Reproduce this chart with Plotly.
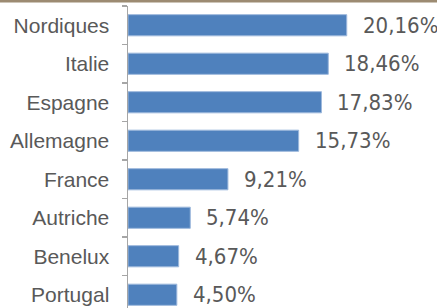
import plotly.graph_objects as go

categories = ["Nordiques", "Italie", "Espagne", "Allemagne", "France", "Autriche", "Benelux", "Portugal"]
values = [20.16, 18.46, 17.83, 15.73, 9.21, 5.74, 4.67, 4.50]
value_labels = ["20,16%", "18,46%", "17,83%", "15,73%", "9,21%", "5,74%", "4,67%", "4,50%"]

W, H = 437, 308
L, T = 128, 6
px_per_unit = 10.85
x_max = (W - L) / px_per_unit
band = 38.5
y_bottom = -0.5 + (H - T) / band

fig = go.Figure()
fig.add_trace(go.Bar(
    y=categories, x=values, orientation="h",
    marker=dict(color="#4f81bd", line=dict(color="#9db8dc", width=1)),
    hoverinfo="skip",
))

for c, v, t in zip(categories, values, value_labels):
    fig.add_annotation(
        x=v, y=c, text=t, showarrow=False, xanchor="left", yanchor="middle",
        xshift=14, yshift=0,
        font=dict(family="DejaVu Sans Condensed, Liberation Sans Narrow, sans-serif",
                  size=22, color="#595959"),
    )

fig.add_shape(type="rect", xref="paper", yref="paper",
              xsizemode="pixel", ysizemode="pixel", xanchor=0, yanchor=1,
              x0=-L, x1=W, y0=T - 2.5, y1=T + 1,
              fillcolor="#9c8b72", line=dict(width=0), layer="above")

fig.update_layout(
    width=W, height=H,
    margin=dict(l=L, r=0, t=T, b=0, pad=0, autoexpand=False),
    plot_bgcolor="white", paper_bgcolor="white",
    bargap=0.45, showlegend=False,
    xaxis=dict(range=[0, x_max], visible=False, fixedrange=True, automargin=False),
    yaxis=dict(
        range=[y_bottom, -0.5], type="category", automargin=False,
        showline=True, linecolor="#a6a6a6", linewidth=1.5,
        ticks="outside", tickson="boundaries", ticklen=5, tickcolor="#a6a6a6", tickwidth=1.5,
        ticklabelstandoff=13,
        tickfont=dict(family="Liberation Sans, Arial, sans-serif", size=21, color="#595959"),
        showgrid=False, zeroline=False, fixedrange=True,
    ),
)

fig.write_html(
    "out.html",
    config={"staticPlot": True},
    post_script="document.body.style.margin='0';document.body.style.overflow='hidden';",
)
